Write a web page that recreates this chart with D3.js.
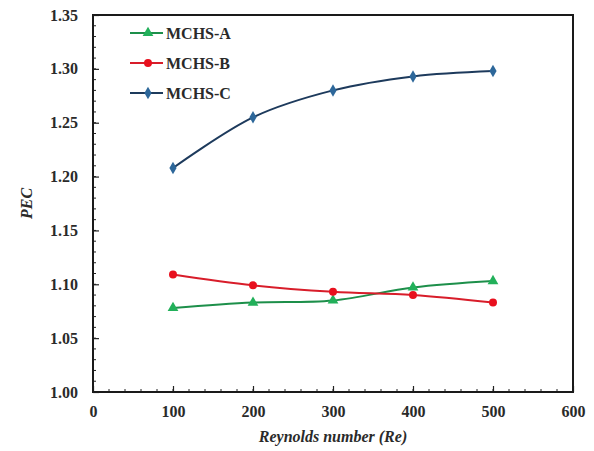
<!DOCTYPE html>
<html>
<head>
<meta charset="utf-8">
<script src="https://cdn.jsdelivr.net/npm/d3@7"></script>
<style>
  html, body { margin: 0; padding: 0; background: #fff; }
  svg { display: block; }
  svg text { font-family: "Liberation Serif", "Times New Roman", serif; }
</style>
</head>
<body>
<div id="chart"></div>
<script>
const reynolds = [100, 200, 300, 400, 500];
const mchsA = [1.078, 1.083, 1.085, 1.097, 1.103];
const mchsB = [1.109, 1.099, 1.093, 1.090, 1.083];
const mchsC = [1.208, 1.255, 1.280, 1.293, 1.298];
const xTicks = [0, 100, 200, 300, 400, 500, 600];
const yTicks = [1.00, 1.05, 1.10, 1.15, 1.20, 1.25, 1.30, 1.35];
const seriesNames = ["MCHS-A", "MCHS-B", "MCHS-C"];

const W = 594, H = 451;
const margin = { top: 15, right: 21, bottom: 59, left: 93 };
const innerW = W - margin.left - margin.right;
const innerH = H - margin.top - margin.bottom;

const svg = d3.select("#chart").append("svg")
  .attr("width", W).attr("height", H)
  .attr("viewBox", `0 0 ${W} ${H}`);

const g = svg.append("g").attr("transform", `translate(${margin.left},${margin.top})`);

const x = d3.scaleLinear().domain([0, 600]).range([0, innerW]);
const y = d3.scaleLinear().domain([1.0, 1.35]).range([innerH, 0]);

// minor ticks (inward)
const xMinor = d3.range(0, 601, 20);
const yMinor = d3.range(0, 36).map(i => 1 + i * 0.01);
g.selectAll(".xminor").data(xMinor).join("line")
  .attr("x1", d => x(d)).attr("x2", d => x(d))
  .attr("y1", innerH).attr("y2", innerH - 3)
  .attr("stroke", "#222").attr("stroke-width", 1);
g.selectAll(".yminor").data(yMinor).join("line")
  .attr("y1", d => y(d)).attr("y2", d => y(d))
  .attr("x1", 0).attr("x2", 3)
  .attr("stroke", "#222").attr("stroke-width", 1);

// axes
const xAxis = g.append("g").attr("transform", `translate(0,${innerH})`)
  .call(d3.axisBottom(x).tickValues(xTicks).tickSizeInner(-6).tickSizeOuter(0).tickPadding(14).tickFormat(d3.format("d")));
const yAxis = g.append("g")
  .call(d3.axisLeft(y).tickValues(yTicks).tickSizeInner(-6).tickSizeOuter(0).tickPadding(15).tickFormat(d3.format(".2f")));
[xAxis, yAxis].forEach(a => {
  a.attr("font-family", null);
  a.select(".domain").remove();
  a.selectAll(".tick line").attr("stroke", "#222").attr("stroke-width", 1.2);
  a.selectAll(".tick text")
    .attr("fill", "#2a2a2a")
    .style("font-size", "16px")
    .style("font-weight", "bold");
});

// frame
g.append("rect")
  .attr("x", 0).attr("y", 0).attr("width", innerW).attr("height", innerH)
  .attr("fill", "none").attr("stroke", "#1a1a1a").attr("stroke-width", 2);

const series = [
  { name: seriesNames[0], values: mchsA, line: "#1d8f4a", fill: "#22b05a", shape: d3.symbolTriangle, size: 50 },
  { name: seriesNames[1], values: mchsB, line: "#d81d2a", fill: "#e8101e", shape: d3.symbolCircle, size: 50 },
  { name: seriesNames[2], values: mchsC, line: "#1d3a5c", fill: "#2d679a", shape: d3.symbolDiamond, size: 45 }
];

const line = d3.line()
  .x((d, i) => x(reynolds[i]))
  .y(d => y(d))
  .curve(d3.curveCatmullRom.alpha(0.5));

series.forEach(s => {
  g.append("path")
    .datum(s.values)
    .attr("d", line)
    .attr("fill", "none")
    .attr("stroke", s.line)
    .attr("stroke-width", 2);
  g.selectAll(null).data(s.values).join("path")
    .attr("transform", (d, i) => `translate(${x(reynolds[i])},${y(d)})`)
    .attr("d", d3.symbol().type(s.shape).size(s.size))
    .attr("fill", s.fill);
});

// legend
const legend = g.append("g").attr("transform", "translate(37,18)");
series.forEach((s, i) => {
  const row = legend.append("g").attr("transform", `translate(0,${i * 30})`);
  row.append("line").attr("x1", 0).attr("x2", 33).attr("y1", 0).attr("y2", 0)
    .attr("stroke", s.line).attr("stroke-width", 2);
  row.append("path").attr("transform", "translate(18,0)")
    .attr("d", d3.symbol().type(s.shape).size(s.size)).attr("fill", s.fill);
  row.append("text").attr("x", 36).attr("y", 0).attr("dy", "0.35em")
    .style("font-size", "16px").style("font-weight", "bold")
    .attr("fill", "#2a2a2a").text(s.name);
});

// axis titles
svg.append("text")
  .attr("x", margin.left + x(300)).attr("y", 442)
  .attr("text-anchor", "middle")
  .style("font-size", "16px").style("font-weight", "bold").style("font-style", "italic")
  .attr("fill", "#2a2a2a")
  .text("Reynolds number (Re)");
svg.append("text")
  .attr("transform", `translate(32,${margin.top + innerH / 2}) rotate(-90)`)
  .attr("text-anchor", "middle")
  .style("font-size", "16px").style("font-weight", "bold").style("font-style", "italic")
  .attr("fill", "#2a2a2a")
  .text("PEC");
</script>
</body>
</html>
